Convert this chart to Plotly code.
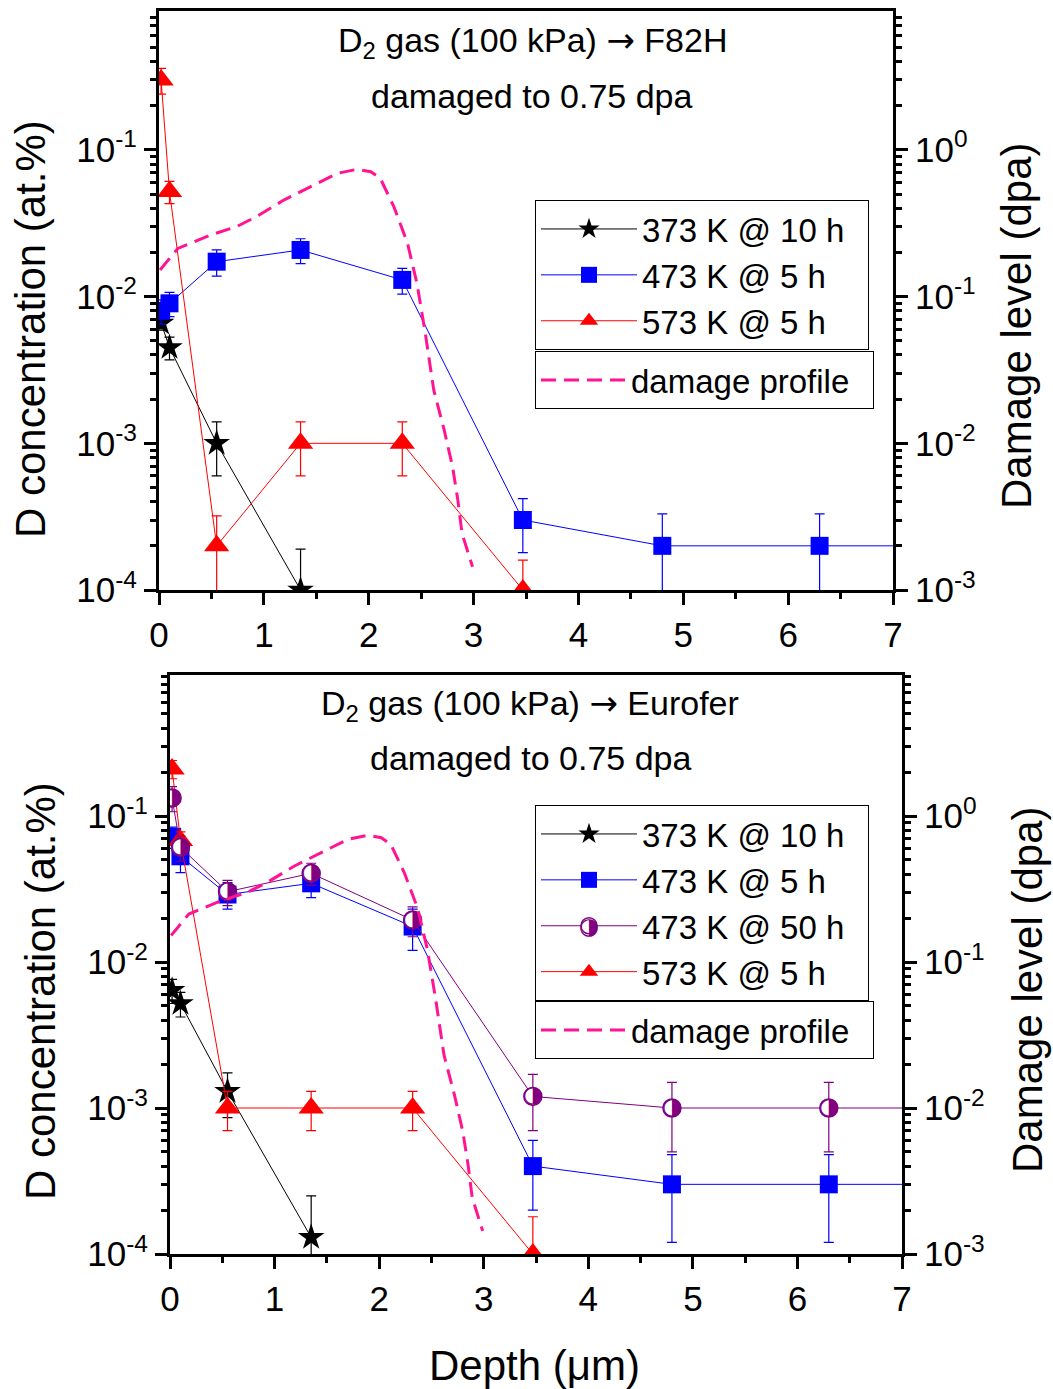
import numpy as np
import plotly.graph_objects as go

W, H = 1053, 1389
FONT = "'Liberation Sans', Arial, sans-serif"

# ---------------- data ----------------
# Top panel: F82H
f82h_373_x = [0.02, 0.1, 0.55, 1.35]
f82h_373_y = [0.0066, 0.0045, 0.0010, 0.0001]
f82h_373_e = [0.0007, 0.0008, 0.0004, 0.00009]

f82h_473_x = [0.02, 0.1, 0.55, 1.35, 2.32, 3.47, 4.8, 6.3, 7.8]
f82h_473_y = [0.008, 0.009, 0.0173, 0.0208, 0.013, 0.0003, 0.0002, 0.0002, 0.0002]
f82h_473_e = [0.0015, 0.0017, 0.0035, 0.004, 0.0026, 0.00012, 0.00013, 0.00013, 0.0]

f82h_573_x = [0.02, 0.1, 0.55, 1.35, 2.32, 3.47]
f82h_573_y = [0.30, 0.052, 0.0002, 0.0010, 0.0010, 0.0001]
f82h_573_e = [0.06, 0.009, 0.00012, 0.0004, 0.0004, 0.00006]

# Bottom panel: Eurofer
eu_373_x = [0.02, 0.1, 0.55, 1.35]
eu_373_y = [0.0064, 0.0052, 0.0013, 0.00013]
eu_373_e = [0.0012, 0.0010, 0.00044, 0.00012]

eu_473a_x = [0.02, 0.1, 0.55, 1.35, 2.32, 3.47, 4.8, 6.3, 7.8]
eu_473a_y = [0.072, 0.053, 0.029, 0.0346, 0.0175, 0.0004, 0.0003, 0.0003, 0.0003]
eu_473a_e = [0.012, 0.012, 0.006, 0.007, 0.0055, 0.0002, 0.00018, 0.00018, 0.0]

eu_473b_x = [0.02, 0.1, 0.55, 1.35, 2.32, 3.47, 4.8, 6.3, 7.8]
eu_473b_y = [0.133, 0.061, 0.0303, 0.0405, 0.0194, 0.0012, 0.0010, 0.0010, 0.0010]
eu_473b_e = [0.026, 0.012, 0.006, 0.007, 0.0045, 0.0005, 0.0005, 0.0005, 0.0]

eu_573_x = [0.02, 0.1, 0.55, 1.35, 2.32, 3.47]
eu_573_y = [0.21, 0.068, 0.0010, 0.0010, 0.0010, 0.0001]
eu_573_e = [0.03, 0.01, 0.0003, 0.0003, 0.0003, 0.00008]

# Damage profile (dpa)
dmg_x = [0.01, 0.18, 0.30, 0.49, 0.74, 0.93, 1.19, 1.44, 1.70, 1.89, 2.02, 2.11,
         2.24, 2.37, 2.46, 2.54, 2.62, 2.72, 2.80, 2.85, 2.89, 2.93, 2.99]
dmg_y = [0.152, 0.213, 0.231, 0.263, 0.30, 0.351, 0.455, 0.561, 0.692, 0.738, 0.71, 0.641,
         0.41, 0.231, 0.123, 0.056, 0.0231, 0.0123, 0.0069, 0.0041, 0.00243, 0.00197, 0.00144]

x_ticks = [0, 1, 2, 3, 4, 5, 6, 7]
conc_ticks = [1e-4, 1e-3, 1e-2, 1e-1]
conc_text = ["10<sup>-4</sup>", "10<sup>-3</sup>", "10<sup>-2</sup>", "10<sup>-1</sup>"]
dpa_ticks = [1e-3, 1e-2, 1e-1, 1e0]
dpa_text = ["10<sup>-3</sup>", "10<sup>-2</sup>", "10<sup>-1</sup>", "10<sup>0</sup>"]

BLACK, BLUE, RED, PURPLE, PINK = "#000000", "#0000FF", "#FF0000", "#800080", "#FF1493"
PAD = "\u00a0\u00a0"
HALF = "\u25D1"
X_MAX = 7

def minor_log(lo, hi):
    vals = []
    for e in range(lo, hi + 1):
        for d in range(2, 10):
            vals.append(d * 10.0 ** e)
    return vals

fig = go.Figure()

def err(arr, color):
    return dict(type="data", array=arr, visible=True, color=color, thickness=1.2, width=5)

def series(x, y, e, name, color, symbol, size, xa, ya, legend, rank):
    fig.add_trace(go.Scatter(
        x=x, y=y, mode="lines+markers", name=name + PAD, xaxis=xa, yaxis=ya,
        legend=legend, legendrank=rank,
        line=dict(color=color, width=1.0),
        marker=dict(symbol=symbol, size=size, color=color, line=dict(width=0)),
        error_y=err(e, color)))

# ---- top panel ----
series(f82h_373_x, f82h_373_y, f82h_373_e, "373 K @ 10 h", BLACK, "star", 20, "x", "y", "legend", 1)
series(f82h_473_x, f82h_473_y, f82h_473_e, "473 K @ 5 h", BLUE, "square", 18, "x", "y", "legend", 2)
series(f82h_573_x, f82h_573_y, f82h_573_e, "573 K @ 5 h", RED, "triangle-up", 22, "x", "y", "legend", 3)
fig.add_trace(go.Scatter(x=dmg_x, y=dmg_y, mode="lines", name="damage profile" + PAD,
                         xaxis="x", yaxis="y2", legend="legend2",
                         line=dict(color=PINK, width=3, dash="15px,8px")))

# ---- bottom panel ----
series(eu_373_x, eu_373_y, eu_373_e, "373 K @ 10 h", BLACK, "star", 20, "x2", "y3", "legend3", 1)
series(eu_473a_x, eu_473a_y, eu_473a_e, "473 K @ 5 h", BLUE, "square", 18, "x2", "y3", "legend3", 2)
series(eu_573_x, eu_573_y, eu_573_e, "573 K @ 5 h", RED, "triangle-up", 22, "x2", "y3", "legend3", 4)
# half-filled circles: white circle with purple outline + right-half glyph on top
fig.add_trace(go.Scatter(
    x=eu_473b_x, y=eu_473b_y, mode="lines+markers", name="473 K @ 50 h" + PAD,
    xaxis="x2", yaxis="y3", legend="legend3", legendrank=3,
    line=dict(color=PURPLE, width=1.0),
    marker=dict(symbol="circle", size=18, color="white", line=dict(color=PURPLE, width=1.5)),
    error_y=err(eu_473b_e, PURPLE)))
in_x = [xv for xv in eu_473b_x if xv <= X_MAX]
in_y = [yv for xv, yv in zip(eu_473b_x, eu_473b_y) if xv <= X_MAX]
fig.add_trace(go.Scatter(
    x=in_x, y=in_y, mode="text", text=[HALF] * len(in_x),
    textposition="middle center", showlegend=False, xaxis="x2", yaxis="y3",
    textfont=dict(family="DejaVu Sans", size=23, color=PURPLE)))
fig.add_trace(go.Scatter(x=dmg_x, y=dmg_y, mode="lines", name="damage profile" + PAD,
                         xaxis="x2", yaxis="y4", legend="legend4",
                         line=dict(color=PINK, width=3, dash="15px,8px")))

# ---------------- axes ----------------
tickfont = dict(family=FONT, size=35, color="black")
common = dict(showline=True, linewidth=3, linecolor="black", ticks="outside",
              ticklen=12, tickwidth=3, tickcolor="black", showgrid=False,
              zeroline=False, tickfont=tickfont)

def xaxis(domain, anchor):
    return dict(domain=domain, anchor=anchor, range=[0, X_MAX], tickmode="array",
                tickvals=x_ticks, ticktext=[str(t) for t in x_ticks], mirror=True,
                minor=dict(tickmode="array", tickvals=[t + 0.5 for t in x_ticks[:-1]],
                           ticks="outside", ticklen=6, tickwidth=3, tickcolor="black"),
                **common)

def yaxis_left(domain, anchor, rng):
    return dict(domain=domain, anchor=anchor, type="log", range=rng, tickmode="array",
                tickvals=conc_ticks, ticktext=conc_text,
                minor=dict(tickmode="array", tickvals=minor_log(-5, 0),
                           ticks="outside", ticklen=6, tickwidth=2.5, tickcolor="black"),
                **common)

def yaxis_right(over, anchor, rng):
    return dict(overlaying=over, anchor=anchor, side="right", type="log", range=rng,
                tickmode="array", tickvals=dpa_ticks, ticktext=dpa_text,
                minor=dict(tickmode="array", tickvals=minor_log(-4, 1),
                           ticks="outside", ticklen=6, tickwidth=2.5, tickcolor="black"),
                **common)

top_y = [1 - 590 / H, 1 - 11 / H]
bot_y = [1 - 1254 / H, 1 - 675 / H]

legend_common = dict(xanchor="left", yanchor="top", bordercolor="black", borderwidth=1,
                     bgcolor="rgba(255,255,255,0)",
                     font=dict(family=FONT, size=33, color="black"), tracegroupgap=0)

fig.update_layout(
    width=W, height=H, margin=dict(l=0, r=0, t=0, b=0, autoexpand=False),
    plot_bgcolor="white", paper_bgcolor="white",
    xaxis=xaxis([159 / W, 893 / W], "y"),
    yaxis=yaxis_left(top_y, "x", [-4, -0.053]),
    yaxis2=yaxis_right("y", "x", [-3, 0.947]),
    xaxis2=xaxis([170 / W, 902 / W], "y3"),
    yaxis3=yaxis_left(bot_y, "x2", [-4, -0.034]),
    yaxis4=yaxis_right("y3", "x2", [-3, 0.966]),
    legend=dict(x=535 / W, y=1 - 200 / H, itemwidth=96, **legend_common),
    legend2=dict(x=535 / W, y=1 - 351 / H, itemwidth=85, **legend_common),
    legend3=dict(x=535 / W, y=1 - 805 / H, itemwidth=96, **legend_common),
    legend4=dict(x=535 / W, y=1 - 1001 / H, itemwidth=85, **legend_common),
)

def ann(text, x, y, size, angle=0, family=FONT, color="black"):
    fig.add_annotation(text=text, x=x / W, y=1 - y / H, xref="paper", yref="paper",
                       showarrow=False, xanchor="center", yanchor="middle",
                       textangle=angle, font=dict(family=family, size=size, color=color))

ARROW = "<span style='font-family:DejaVu Sans'>\u2192</span>"
ann("D<sub>2</sub> gas (100 kPa) " + ARROW + " F82H", 532, 42, 34)
ann("damaged to 0.75 dpa", 531, 96, 34)
ann("D<sub>2</sub> gas (100 kPa) " + ARROW + " Eurofer", 530, 705, 34)
ann("damaged to 0.75 dpa", 530, 758, 34)
ann("D concentration (at.%)", 30, 329, 42, -90)
ann("Damage level (dpa)", 1017, 326, 42, -90)
ann("D concentration (at.%)", 40, 991, 42, -90)
ann("Damage level (dpa)", 1027, 990, 42, -90)
ann("Depth (\u03bcm)", 534, 1365, 42)
# half-filled symbol for the 473 K @ 50 h legend entry (legend3, third row)
ann(HALF, 589, 926, 23, family="DejaVu Sans", color=PURPLE)

fig.write_html("out.html", config={"displayModeBar": False},
               post_script="document.body.style.margin='0px';document.body.style.padding='0px';")
